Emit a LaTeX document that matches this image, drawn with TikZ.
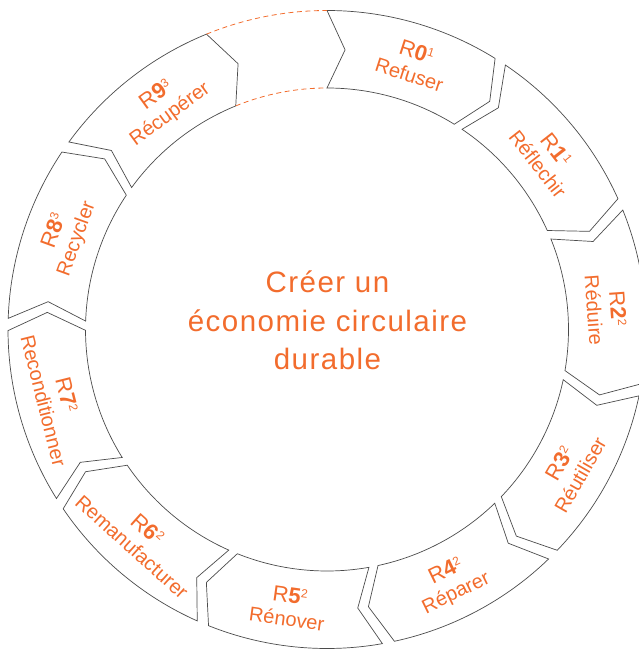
\documentclass[tikz,border=0pt]{standalone}
\usepackage{fontspec}
\setmainfont{Liberation Sans}
\newfontfamily\ctrfont[LetterSpace=5]{Liberation Sans}
\definecolor{orng}{RGB}{242,108,45}
\definecolor{edgegray}{RGB}{75,75,75}
\begin{document}
\begin{tikzpicture}[x=1pt,y=1pt,
  seg/.style={draw=edgegray, line width=0.7pt, line join=miter},
  dsh/.style={draw=orng, line width=0.8pt, dash pattern=on 5pt off 3.5pt},
  rlab/.style={text=orng, inner sep=0pt, font=\fontsize{22}{22}\selectfont, text height=15.8pt, text depth=0pt},
  nlab/.style={text=orng, inner sep=0pt, font=\fontsize{20}{20}\selectfont, text height=14.5pt, text depth=0pt},
  ctr/.style={text=orng, inner sep=0pt, font=\ctrfont\fontsize{29.5}{29.5}\selectfont, anchor=base}]
\useasboundingbox (0,0) rectangle (638,650);
\begin{scope}[shift={(327,320.5)}]
\def\Ro{319}
\def\Ri{241.5}
\def\Rm{280.25}
\foreach \i/\sx/\nm in {0/1/Refuser,1/1/Réflechir,2/2/Réduire,3/2/Réutiliser,4/2/Réparer,5/2/Rénover,6/2/Remanufacturer,7/2/Reconditionner,8/3/Recycler,9/3/Récupérer}{
  \pgfmathsetmacro\ta{90-34*\i}
  \pgfmathsetmacro\ha{\ta-31.8}
  \pgfmathsetmacro\tip{\ha-3.7}
  \pgfmathsetmacro\ntc{\ta-3.7}
  \draw[seg] (\ta:\Ro) arc[start angle=\ta, end angle=\ha, radius=\Ro] -- (\tip:\Rm) -- (\ha:\Ri) arc[start angle=\ha, end angle=\ta, radius=\Ri] -- (\ntc:\Rm) -- cycle;
  \pgfmathsetmacro\ph{\ta-17.9}
  \pgfmathsetmacro\top{sin(\ph)>0 ? 1 : 0}
  \ifdim\top pt>0.5pt
    \pgfmathsetmacro\rot{\ph-90}
    \pgfmathsetmacro\ra{292}
    \pgfmathsetmacro\rb{268}
  \else
    \pgfmathsetmacro\rot{\ph+90}
    \pgfmathsetmacro\ra{268}
    \pgfmathsetmacro\rb{292}
  \fi
  \node[rlab, rotate=\rot] (r\i) at (\ph:\ra) {R\textbf{\i}\raisebox{6.8pt}{\fontsize{12}{12}\selectfont\sx}};
  \node[nlab, rotate=\rot] (n\i) at (\ph:\rb) {\nm};
}
\draw[dsh] (112.2:\Ro) arc[start angle=112.2, end angle=90, radius=\Ro];
\draw[dsh] (112.2:\Ri) arc[start angle=112.2, end angle=90, radius=\Ri];
\node[ctr] (c1) at (0.5,36.8) {Créer un};
\node[ctr] (c2) at (0.5,-2.2) {économie circulaire};
\node[ctr] (c3) at (0.5,-40.5) {durable};
\end{scope}
\end{tikzpicture}
\end{document}
